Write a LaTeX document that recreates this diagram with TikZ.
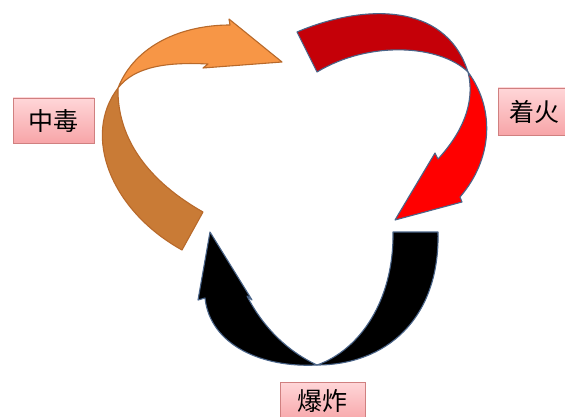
\documentclass[tikz,border=0pt]{standalone}
\usepackage{fontspec}
\newfontfamily\cjk{Noto Sans CJK SC}
\usetikzlibrary{shadows}
\definecolor{orlight}{HTML}{F79646}
\definecolor{ordark}{HTML}{C97B36}
\definecolor{orline}{HTML}{B8692A}
\definecolor{rddark}{HTML}{C50008}
\definecolor{rdlight}{HTML}{FF0000}
\definecolor{blueline}{HTML}{4A6488}
\definecolor{pinktop}{HTML}{FFD6D8}
\definecolor{pinkbot}{HTML}{F7A5A8}
\definecolor{pinkline}{HTML}{D08080}
\tikzset{
  ribbon/.style={line width=1.1pt, line join=round},
  lab/.style={draw=pinkline, line width=0.6pt, top color=pinktop, bottom color=pinkbot,
              drop shadow={shadow xshift=1.2pt, shadow yshift=-1.2pt, opacity=0.25}},
  labtext/.style={font=\cjk\fontsize{25}{29}\selectfont, text=black, inner sep=0pt}
}
\begin{document}
\begin{tikzpicture}[x=1pt,y=-1pt]
\useasboundingbox (0,0) rectangle (565,417);
\clip (0,0) rectangle (565,417);
\fill[white] (0,0) rectangle (565,417);

% orange arrow (lower, back side)
\filldraw[ribbon, fill=ordark, draw=orline]
  (182,250) .. controls (110,210) and (82,135) .. (118,88)
  .. controls (117,140) and (150,182) .. (203,212) -- cycle;
% orange arrow (upper, front side with head)
\filldraw[ribbon, fill=orlight, draw=orline]
  (118,88) .. controls (135,45) and (182,25) .. (230,25)
  -- (229,19) -- (282,62) -- (203,68) -- (208,64)
  .. controls (168,62) and (135,66) .. (118,88) -- cycle;

% red arrow (upper, dark)
\filldraw[ribbon, fill=rddark, draw=blueline]
  (297,32) .. controls (360,5) and (445,0) .. (468,72)
  .. controls (440,45) and (370,40) .. (317,72) -- cycle;
% red arrow (lower, bright, with head)
\filldraw[ribbon, fill=rdlight, draw=blueline]
  (468,72) .. controls (496,110) and (492,160) .. (460,197)
  -- (462,202) -- (395,220) -- (435,153) -- (438,159)
  .. controls (460,135) and (476,105) .. (468,72) -- cycle;

% black arrow (right part)
\filldraw[ribbon, fill=black, draw=blueline]
  (393,232) -- (438,232)
  .. controls (440,320) and (385,365) .. (317,365)
  .. controls (360,350) and (394,300) .. (393,232) -- cycle;
% black arrow (left part with head)
\filldraw[ribbon, fill=black, draw=blueline]
  (317,365) .. controls (262,368) and (210,345) .. (205,298)
  -- (198,300) -- (210,232) -- (252,300) -- (247,296)
  .. controls (262,325) and (285,350) .. (317,365) -- cycle;

% labels
\path[lab] (13,98) rectangle (94,143);
\node[labtext] (zd) at (53,121) {中毒};
\path[lab] (498,88) rectangle (572,135);
\node[labtext] (zh) at (534,112) {着火};
\path[lab] (280,382) rectangle (365,422);
\node[labtext] (bz) at (322,401) {爆炸};
\end{tikzpicture}
\end{document}
